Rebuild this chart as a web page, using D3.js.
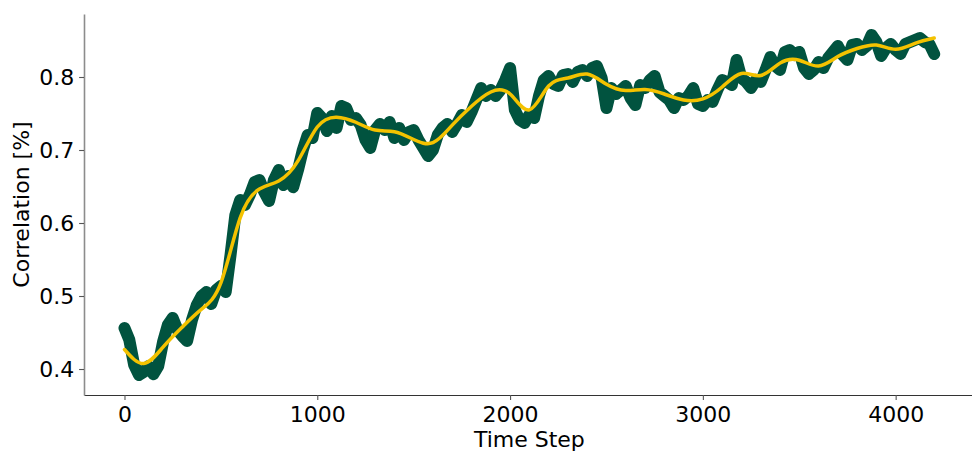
<!DOCTYPE html>
<html>
<head>
<meta charset="utf-8">
<script src="https://cdn.jsdelivr.net/npm/d3@7"></script>
<style>
  html, body { margin: 0; padding: 0; background: #fff; }
  svg { display: block; }
  text { font-family: "DejaVu Sans", sans-serif; fill: #000; }
</style>
</head>
<body>
<svg id="chart" width="972" height="453"></svg>
<script>
// ---- data ----
const rawStep = 25;   // time steps between raw samples
const rawCorrelation = [
  0.4562, 0.4400, 0.4055, 0.3918, 0.3960, 0.4040, 0.3930, 0.4040, 0.4370, 0.4603,
  0.4699, 0.4534, 0.4452, 0.4384, 0.4671, 0.4877, 0.5000, 0.5055, 0.4890, 0.5082,
  0.5137, 0.5055, 0.5560, 0.6110, 0.6315, 0.6247, 0.6384, 0.6562, 0.6589, 0.6425,
  0.6301, 0.6589, 0.6726, 0.6520, 0.6644, 0.6490, 0.6726, 0.7000, 0.7206, 0.7164,
  0.7507, 0.7438, 0.7260, 0.7466, 0.7302, 0.7603, 0.7575, 0.7411, 0.7438, 0.7343,
  0.7137, 0.7028, 0.7274, 0.7356, 0.7274, 0.7384, 0.7164, 0.7302, 0.7137, 0.7247,
  0.7274, 0.7137, 0.7028, 0.6918, 0.7000, 0.7206, 0.7302, 0.7356, 0.7247, 0.7356,
  0.7480, 0.7384, 0.7521, 0.7685, 0.7849, 0.7740, 0.7822, 0.7740, 0.7822, 0.7959,
  0.8123, 0.7548, 0.7411, 0.7370, 0.7480, 0.7438, 0.7740, 0.7959, 0.8014, 0.7904,
  0.7877, 0.8027, 0.8041, 0.7932, 0.8068, 0.8096, 0.8014, 0.8123, 0.8151, 0.7986,
  0.7575, 0.7849, 0.7767, 0.7822, 0.7877, 0.7712, 0.7616, 0.7890, 0.7849, 0.7959,
  0.8014, 0.7794, 0.7740, 0.7685, 0.7575, 0.7712, 0.7685, 0.7740, 0.7849, 0.7630,
  0.7603, 0.7685, 0.7658, 0.7822, 0.7959, 0.7932, 0.7890, 0.8233, 0.7986, 0.7932,
  0.7849, 0.7959, 0.7932, 0.8096, 0.8274, 0.8151, 0.8096, 0.8343, 0.8370, 0.8302,
  0.8343, 0.8123, 0.8041, 0.8096, 0.8206, 0.8123, 0.8260, 0.8343, 0.8425, 0.8302,
  0.8233, 0.8439, 0.8452, 0.8370, 0.8425, 0.8576, 0.8480, 0.8288, 0.8398, 0.8452,
  0.8370, 0.8315, 0.8452, 0.8480, 0.8507, 0.8534, 0.8480, 0.8452, 0.8315
];
const smoothStep = 100; // time steps between smoothed samples
const smoothCorrelation = [
  0.4267, 0.4075, 0.4300, 0.4575, 0.4820, 0.5180, 0.6070, 0.6466, 0.6575, 0.6850,
  0.7315, 0.7450, 0.7380, 0.7274, 0.7250, 0.7144, 0.7100, 0.7340, 0.7600, 0.7795,
  0.7767, 0.7550, 0.7877, 0.7986, 0.8040, 0.7900, 0.7815, 0.7830, 0.7767, 0.7685,
  0.7700, 0.7863, 0.8048, 0.8020, 0.8190, 0.8230, 0.8150, 0.8280, 0.8390, 0.8438,
  0.8380, 0.8460, 0.8534
];
const xTicks = [0, 1000, 2000, 3000, 4000];
const yTicks = [0.4, 0.5, 0.6, 0.7, 0.8];
const xLabel = "Time Step";
const yLabel = "Correlation [%]";

// ---- layout ----
const W = 972, H = 453;
const mLeft = 84, mRight = 974.7, mTop = 14, mBottom = 395;
const svg = d3.select("#chart");

const x = d3.scaleLinear().domain([-210, 4410]).range([mLeft, mRight]);
const y = d3.scaleLinear().domain([0.3644, 0.8863]).range([mBottom, mTop]);

const rawData = rawCorrelation.map((v, i) => ({ t: i * rawStep, v }));
const smoothData = smoothCorrelation.map((v, i) => ({ t: i * smoothStep, v }));

// raw series
svg.append("path")
  .datum(rawData)
  .attr("fill", "none")
  .attr("stroke", "#01533f")
  .attr("stroke-width", 12)
  .attr("stroke-linejoin", "round")
  .attr("stroke-linecap", "round")
  .attr("d", d3.line().x(d => x(d.t)).y(d => y(d.v)).curve(d3.curveLinear));

// smoothed series
svg.append("path")
  .datum(smoothData)
  .attr("fill", "none")
  .attr("stroke", "#f4c200")
  .attr("stroke-width", 3.5)
  .attr("stroke-linecap", "round")
  .attr("d", d3.line().x(d => x(d.t)).y(d => y(d.v)).curve(d3.curveNatural));

// axes
const xAxis = d3.axisBottom(x).tickValues(xTicks).tickFormat(d3.format("d"))
  .tickSizeInner(4.9).tickSizeOuter(0).tickPadding(4.9);
const yAxis = d3.axisLeft(y).tickValues(yTicks).tickFormat(d3.format(".1f"))
  .tickSizeInner(4.9).tickSizeOuter(0).tickPadding(4.9);

const gx = svg.append("g").attr("transform", `translate(0,${mBottom})`).call(xAxis);
const gy = svg.append("g").attr("transform", `translate(${mLeft},0)`).call(yAxis);

gx.select(".domain").attr("stroke", "#333").attr("stroke-width", 1.2);
gy.select(".domain").attr("stroke", "#8c8c8c").attr("stroke-width", 1.6);
[gx, gy].forEach(g => {
  g.selectAll(".tick line").attr("stroke", "#555").attr("stroke-width", 1.1);
  g.selectAll(".tick text")
    .attr("font-family", "DejaVu Sans, sans-serif")
    .attr("font-size", 22)
    .attr("fill", "#000");
});
gx.selectAll(".tick text").attr("dy", "0.78em");
gy.selectAll(".tick text").attr("dy", "0.35em");

// axis labels
svg.append("text")
  .attr("x", (mLeft + mRight) / 2)
  .attr("y", 447)
  .attr("text-anchor", "middle")
  .attr("font-size", 22)
  .text(xLabel);

svg.append("text")
  .attr("transform", `translate(29,${(mTop + mBottom) / 2}) rotate(-90)`)
  .attr("text-anchor", "middle")
  .attr("font-size", 22)
  .text(yLabel);
</script>
</body>
</html>
